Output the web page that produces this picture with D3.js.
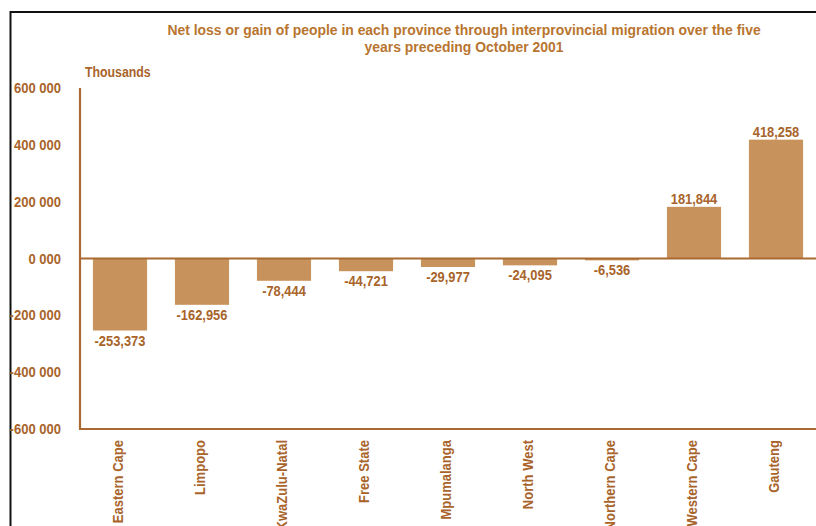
<!DOCTYPE html>
<html>
<head>
<meta charset="utf-8">
<script src="https://cdn.jsdelivr.net/npm/d3@7"></script>
<style>
  html, body { margin: 0; padding: 0; background: #fff; }
  svg { display: block; }
  text { font-family: "Liberation Sans", Arial, sans-serif; }
</style>
</head>
<body>
<script>
const provinces = ["Eastern Cape", "Limpopo", "KwaZulu-Natal", "Free State", "Mpumalanga", "North West", "Northern Cape", "Western Cape", "Gauteng"];
const netMigration = [-253373, -162956, -78444, -44721, -29977, -24095, -6536, 181844, 418258];
const valueLabels = ["-253,373", "-162,956", "-78,444", "-44,721", "-29,977", "-24,095", "-6,536", "181,844", "418,258"];
const yTicks = [600000, 400000, 200000, 0, -200000, -400000, -600000];
const yTickLabels = ["600 000", "400 000", "200 000", "0 000", "-200 000", "-400 000", "-600 000"];
const titleLines = ["Net loss or gain of people in each province through interprovincial migration over the five", "years preceding October 2001"];
const unitLabel = "Thousands";

const W = 816, H = 526;
const textColor = "#a8642a";
const axisColor = "#a86a30";
const barColor = "#c8925c";

const svg = d3.select("body").append("svg").attr("width", W).attr("height", H);

// condense text horizontally (narrow font look)
function condense(sel, f) {
  sel.each(function () {
    const len = this.getComputedTextLength();
    d3.select(this).attr("textLength", len * f).attr("lengthAdjust", "spacingAndGlyphs");
  });
}

// frame
svg.append("rect").attr("x", 10.5).attr("y", 12).attr("width", 1000).attr("height", 700)
  .attr("fill", "none").attr("stroke", "#111").attr("stroke-width", 2);

const x = d3.scaleBand().domain(provinces).range([79, 817]).paddingInner(0.34).paddingOuter(0.17);
const y = d3.scaleLinear().domain([-600000, 600000]).range([429, 88]);

// title
svg.selectAll("text.title").data(titleLines).join("text")
  .attr("class", "title")
  .attr("x", 464).attr("y", (d, i) => 35 + i * 17)
  .attr("text-anchor", "middle")
  .attr("font-size", 14.5).attr("font-weight", "bold")
  .attr("fill", "#b87530")
  .text(d => d)
  .call(condense, 0.96);

svg.append("text").attr("x", 85).attr("y", 77)
  .attr("font-size", 14).attr("font-weight", "bold").attr("fill", textColor)
  .text(unitLabel)
  .call(condense, 0.88);

// y tick labels
svg.selectAll("text.ytick").data(yTicks).join("text")
  .attr("class", "ytick")
  .attr("x", 61).attr("y", d => y(d) + 5)
  .attr("text-anchor", "end")
  .attr("font-size", 14).attr("font-weight", "bold").attr("fill", textColor)
  .text((d, i) => yTickLabels[i])
  .call(condense, 0.93);

// bars
svg.selectAll("rect.bar").data(netMigration).join("rect")
  .attr("class", "bar")
  .attr("x", (d, i) => x(provinces[i]))
  .attr("width", x.bandwidth())
  .attr("y", d => y(Math.max(0, d)))
  .attr("height", d => Math.abs(y(d) - y(0)))
  .attr("fill", barColor);

// axes lines
svg.append("line").attr("x1", 80).attr("x2", 80).attr("y1", y(600000)).attr("y2", y(-600000))
  .attr("stroke", axisColor).attr("stroke-width", 2.2);
svg.append("line").attr("x1", 79).attr("x2", W).attr("y1", y(-600000)).attr("y2", y(-600000))
  .attr("stroke", axisColor).attr("stroke-width", 2.2);
svg.append("line").attr("x1", 80).attr("x2", W).attr("y1", y(0)).attr("y2", y(0))
  .attr("stroke", axisColor).attr("stroke-width", 2.2);

// value labels
svg.selectAll("text.val").data(netMigration).join("text")
  .attr("class", "val")
  .attr("x", (d, i) => x(provinces[i]) + x.bandwidth() / 2)
  .attr("y", d => d < 0 ? y(d) + 15 : y(d) - 3)
  .attr("text-anchor", "middle")
  .attr("font-size", 14).attr("font-weight", "bold").attr("fill", textColor)
  .text((d, i) => valueLabels[i])
  .call(condense, 0.92);

// category labels
svg.selectAll("text.cat").data(provinces).join("text")
  .attr("class", "cat")
  .attr("transform", d => `translate(${x(d) + x.bandwidth() / 2 + 3},440) rotate(-90)`)
  .attr("text-anchor", "end")
  .attr("font-size", 14).attr("font-weight", "bold").attr("fill", textColor)
  .text(d => d)
  .call(condense, 0.93);
</script>
</body>
</html>
